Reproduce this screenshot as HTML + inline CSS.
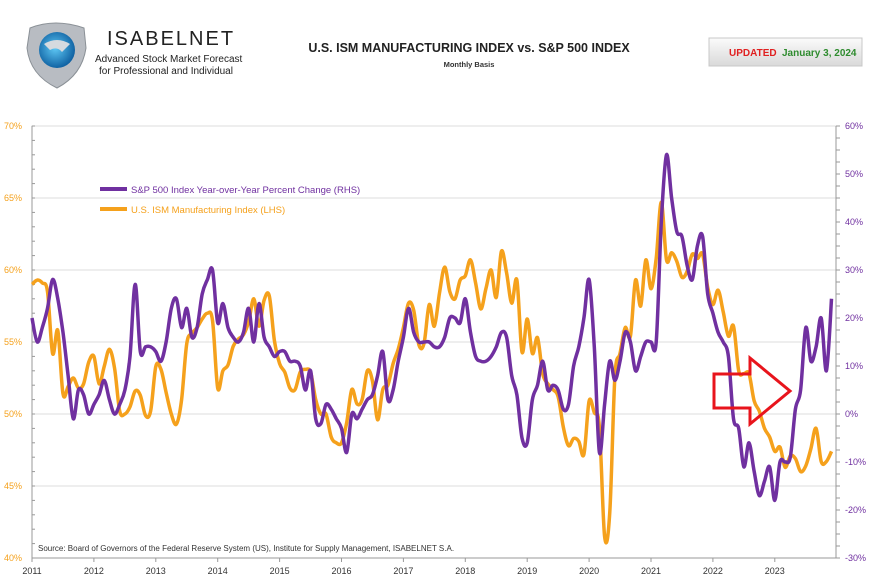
<!DOCTYPE html>
<html><head><meta charset="utf-8"><style>
body{margin:0;background:#fff;width:872px;height:577px;overflow:hidden;font-family:"Liberation Sans",sans-serif}
svg{position:absolute;left:0;top:0}
</style></head><body>
<svg width="872" height="577">
<defs>
<radialGradient id="lg" cx="0.45" cy="0.45" r="0.6"><stop offset="0" stop-color="#5ec8f5"/><stop offset="1" stop-color="#0a5a9c"/></radialGradient>
<linearGradient id="ub" x1="0" y1="0" x2="0" y2="1"><stop offset="0" stop-color="#fbfbfb"/><stop offset="1" stop-color="#d9d9d9"/></linearGradient>
</defs>
<g>
<path d="M30 28 Q55 18 84 28 L86 48 Q82 75 57 88 Q30 75 27 48 Z" fill="#b8bcc2" stroke="#8a9096"/>
<circle cx="57" cy="50" r="18" fill="url(#lg)"/>
<path d="M44 44 Q57 36 70 44 L62 52 Q57 46 50 50 Z" fill="#d6dadf"/>
</g>
<text x="107" y="45" font-size="20" fill="#222" letter-spacing="2">ISABELNET</text>
<text x="95" y="62" font-size="10" fill="#222">Advanced Stock Market Forecast</text>
<text x="99" y="74" font-size="10" fill="#222">for Professional and Individual</text>
<text x="469" y="52" font-size="12.5" font-weight="bold" fill="#222" text-anchor="middle">U.S. ISM MANUFACTURING INDEX vs. S&amp;P 500 INDEX</text>
<text x="469" y="67" font-size="7.5" font-weight="bold" fill="#333" text-anchor="middle">Monthly Basis</text>
<g>
<rect x="709" y="38" width="153" height="28" fill="url(#ub)" stroke="#c8c8c8"/>
<text x="729" y="56" font-size="10" font-weight="bold" fill="#e02020">UPDATED</text>
<text x="782" y="56" font-size="10" font-weight="bold" fill="#2e8b2e">January 3, 2024</text>
</g>
<g id="grid"></g>
<g id="axes"></g>
<g id="series"></g>
<g>
<line x1="100" y1="189" x2="127" y2="189" stroke="#7030a0" stroke-width="4"/>
<text x="131" y="193" font-size="9.5" fill="#7030a0">S&amp;P 500 Index Year-over-Year Percent Change (RHS)</text>
<line x1="100" y1="209" x2="127" y2="209" stroke="#f5a11c" stroke-width="4"/>
<text x="131" y="213" font-size="9.5" fill="#f5a11c">U.S. ISM Manufacturing Index (LHS)</text>
</g>
<path d="M714 374 L750 374 L750 358 L790 391 L750 424 L750 408 L714 408 Z" fill="none" stroke="#e8141c" stroke-width="3"/>
<text x="38" y="551" font-size="8" fill="#333">Source: Board of Governors of the Federal Reserve System (US), Institute for Supply Management, ISABELNET S.A.</text>
</svg>
<script>
const years=["2011","2012","2013","2014","2015","2016","2017","2018","2019","2020","2021","2022","2023"];
const leftTicks=[40,45,50,55,60,65,70];
const rightTicks=[-30,-20,-10,0,10,20,30,40,50,60];
const ism=[59.0,59.3,59.1,58.5,54.2,55.8,51.4,51.9,52.5,51.8,52.1,53.6,
54.0,52.1,53.3,54.5,53.2,50.2,50.0,50.5,51.6,51.3,49.9,50.2,
53.3,53.1,51.5,50.0,49.3,51.0,54.9,55.6,56.0,56.6,57.0,56.5,
51.8,53.0,53.4,54.7,55.2,55.5,56.4,58.0,56.1,57.9,58.2,55.1,
53.5,52.9,51.8,51.7,52.9,53.1,52.9,51.0,50.0,50.0,48.4,48.0,
48.0,49.4,51.7,50.7,51.0,53.0,52.3,49.6,51.7,52.0,53.5,54.5,
56.0,57.7,57.2,54.8,54.9,57.6,56.1,58.4,60.2,58.5,58.0,59.3,
59.6,60.7,59.1,57.3,58.7,60.0,58.1,61.3,59.8,57.7,59.3,54.3,
56.6,54.2,55.3,52.8,52.1,51.7,51.2,49.1,47.8,48.3,48.1,47.2,
50.9,50.1,49.1,41.5,43.1,52.6,54.2,56.0,55.4,59.3,57.5,60.7,
58.7,60.8,64.7,60.7,61.2,60.6,59.5,59.9,61.1,60.8,61.1,58.8,
57.6,58.6,57.1,55.4,56.1,53.0,52.8,52.8,50.9,50.2,49.0,48.4,
47.4,47.7,46.3,47.1,46.9,46.0,46.4,47.6,49.0,46.7,46.7,47.4];
const spx=[20,15,18,22,28,24,17,8,-1,5,4,0,
2,4,7,3,0,2,5,12,27,13,14,14,
13,11,15,22,24,18,22,16,18,25,28,30,
19,23,18,16,15,17,22,15,23,16,14,12,
13,13,11,11,10,5,9,-1,-2,2,1,-1,
-3,-8,0,-1,1,3,4,8,13,3,5,11,
16,22,17,15,15,15,14,14,16,20,20,19,
24,17,12,11,11,12,14,17,16,8,4,-5,
-6,3,6,11,5,6,5,1,2,10,14,20,
28,14,-8,2,11,7,11,17,15,9,12,15,
15,15,40,54,45,38,37,31,28,35,37,25,
21,17,15,12,-1,-3,-11,-6,-12,-17,-14,-11,
-18,-10,-10,-9,1,5,18,11,14,20,9,24];
const NS="http://www.w3.org/2000/svg";
const X0=32,X1=836,Y0=126,Y1=558;
const xm=i=>X0+i*61.9/12;
const yl=v=>Y0+(70-v)*(Y1-Y0)/30;
const yr=v=>Y0+(60-v)*(Y1-Y0)/90;
function mk(t,a,p){const e=document.createElementNS(NS,t);for(const k in a)e.setAttribute(k,a[k]);p.appendChild(e);return e;}
const grid=document.getElementById('grid'),axes=document.getElementById('axes'),ser=document.getElementById('series');
mk('rect',{x:X0,y:Y0,width:X1-X0,height:Y1-Y0,fill:'none',stroke:'#d0d0d0'},grid);
leftTicks.forEach(v=>{
 const l=mk('line',{x1:X0,x2:X1,y1:yl(v),y2:yl(v),stroke:'#dcdcdc'},grid);
 
 
 const t=mk('text',{x:22,y:yl(v)+3,'font-size':9,fill:'#f5a11c','text-anchor':'end'},axes);
 t.textContent=v+'%';
 
 
});
for(let v=40;v<=70;v+=1){mk('line',{x1:X0,x2:X0+3,y1:yl(v),y2:yl(v),stroke:'#999'},axes);}
mk('line',{x1:X0,x2:X0,y1:Y0,y2:Y1,stroke:'#999'},axes);
mk('line',{x1:X1,x2:X1,y1:Y0,y2:Y1,stroke:'#999'},axes);
mk('line',{x1:X0,x2:X1,y1:Y1,y2:Y1,stroke:'#999'},axes);
rightTicks.forEach(v=>{
 const t=mk('text',{x:845,y:yr(v)+3,'font-size':9,fill:'#7030a0'},axes);
 t.textContent=v+'%';
 
 
});
for(let v=-30;v<=60;v+=2.5){mk('line',{x1:X1,x2:X1+4,y1:yr(v),y2:yr(v),stroke:'#999'},axes);}
years.forEach((y,k)=>{
 const x=xm(k*12);
 mk('line',{x1:x,x2:x,y1:Y1,y2:Y1+4,stroke:'#999'},axes);
 const t=mk('text',{x:x,y:574,'font-size':9,fill:'#333','text-anchor':'middle'},axes);
 t.textContent=y;
 
 
});
function smooth(pts){let d='M'+pts[0][0]+' '+pts[0][1];
 for(let i=0;i<pts.length-1;i++){const p0=pts[i-1]||pts[i],p1=pts[i],p2=pts[i+1],p3=pts[i+2]||p2;
  d+=' C'+(p1[0]+(p2[0]-p0[0])/6).toFixed(1)+' '+(p1[1]+(p2[1]-p0[1])/6).toFixed(1)+' '+(p2[0]-(p3[0]-p1[0])/6).toFixed(1)+' '+(p2[1]-(p3[1]-p1[1])/6).toFixed(1)+' '+p2[0].toFixed(1)+' '+p2[1].toFixed(1);}
 return d;}
const pi=mk('path',{d:smooth(ism.map((v,i)=>[xm(i),yl(v)])),fill:'none',stroke:'#f5a11c','stroke-width':3.5,'stroke-linejoin':'round'},ser);


const ps=mk('path',{d:smooth(spx.map((v,i)=>[xm(i),yr(v)])),fill:'none',stroke:'#7030a0','stroke-width':3.5,'stroke-linejoin':'round'},ser);


</script>
</body></html>
